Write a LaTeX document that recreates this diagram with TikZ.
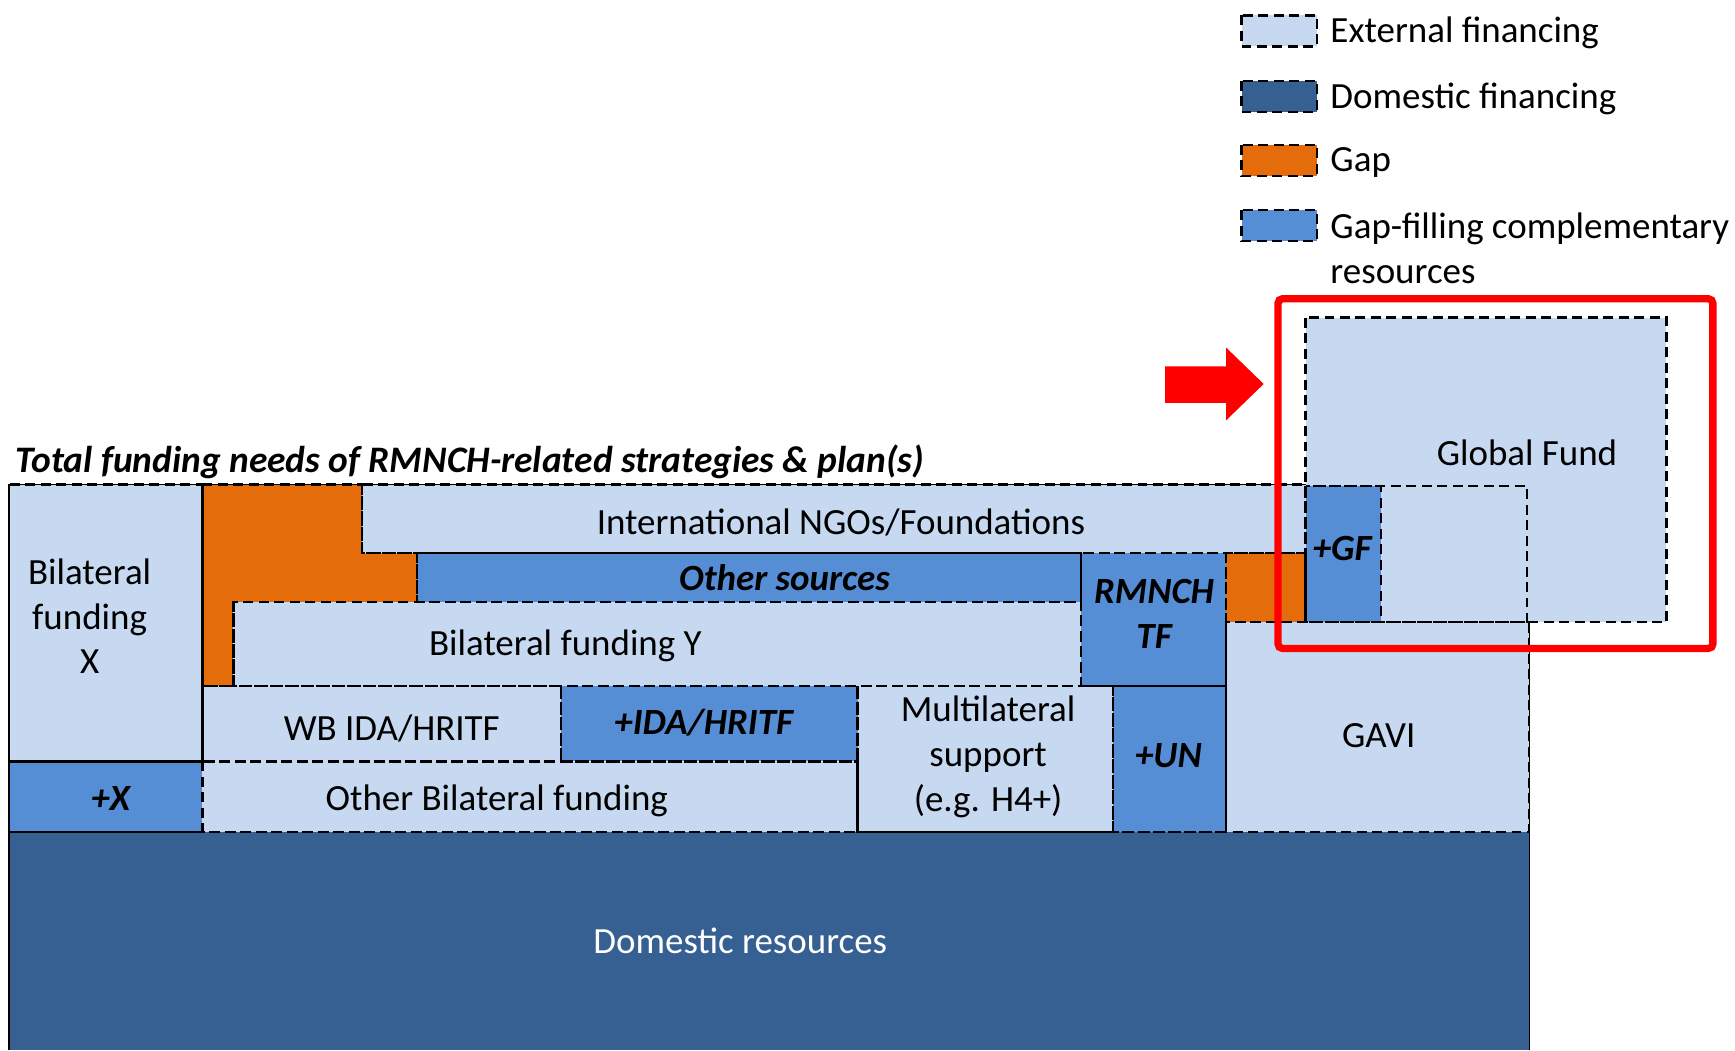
\documentclass[tikz,border=0pt]{standalone}
\usepackage{fontspec}
\setmainfont{Carlito}
\usepackage{tikz}
\usetikzlibrary{positioning}

\definecolor{extfill}{RGB}{198,217,241}
\definecolor{domfill}{RGB}{54,96,146}
\definecolor{gapfill}{RGB}{228,108,10}
\definecolor{compfill}{RGB}{85,142,213}

\tikzset{
  dashbox/.style={draw=black,line width=1.1pt,dash pattern=on 4.5pt off 2.5pt},
  extbox/.style={fill=extfill},
  dombox/.style={fill=domfill},
  gapbox/.style={fill=gapfill},
  compbox/.style={fill=compfill},
  lbl/.style={font=\fontsize{16.7}{20.2}\selectfont,align=center,inner sep=0pt},
  blbl/.style={lbl,font=\fontsize{16.7}{20.2}\selectfont\bfseries\itshape},
}

\begin{document}
\begin{tikzpicture}[x=0.5pt,y=0.5pt,yscale=-1,xscale=1]
\useasboundingbox (0,0) rectangle (1568,949);

%Shape: Domestic resources
\fill [dombox] (8,752) rectangle (1382,949);
%Shape: Bilateral X and +X
\fill [extbox] (8,438) rectangle (183,688);
\fill [compbox] (8,688) rectangle (183,752);
%Shape: Gap (L shape)
\fill [gapbox] (183,438) -- (327,438) -- (327,500) -- (377,500) -- (377,544) -- (211,544) -- (211,620) -- (183,620) -- cycle ;
%Shape: International NGOs / Foundations
\fill [extbox] (327,438) rectangle (1180,500);
%Shape: Other sources
\fill [compbox] (377,500) rectangle (977,544);
%Shape: RMNCH TF
\fill [compbox] (977,500) rectangle (1108,620);
%Shape: Gap (right)
\fill [gapbox] (1108,500) rectangle (1180,562);
%Shape: Bilateral Y
\fill [extbox] (211,544) rectangle (977,620);
%Shape: WB IDA, +IDA
\fill [extbox] (183,620) rectangle (507,688);
\fill [compbox] (507,620) rectangle (775,688);
%Shape: Other bilateral, multilateral, +UN, GAVI
\fill [extbox] (183,688) rectangle (775,752);
\fill [extbox] (775,620) rectangle (1006,752);
\fill [compbox] (1006,620) rectangle (1108,752);
\fill [extbox] (1108,562) rectangle (1382,752);
%Shape: Global Fund
\fill [extbox] (1180,287) rectangle (1506,562);
\fill [compbox] (1180,439) rectangle (1248,562);

%Outlines
\draw [dashbox] (8,438) rectangle (183,688);
\draw [dashbox] (8,688) rectangle (183,752);
\draw [dashbox] (183,438) -- (327,438) -- (327,500) -- (377,500) -- (377,544) -- (211,544) -- (211,620) -- (183,620) -- cycle ;
\draw [dashbox] (327,438) rectangle (1180,500);
\draw [dashbox] (377,500) rectangle (977,544);
\draw [dashbox] (977,500) rectangle (1108,620);
\draw [dashbox] (1108,500) rectangle (1180,562);
\draw [dashbox] (211,544) rectangle (977,620);
\draw [dashbox] (183,620) rectangle (507,688);
\draw [dashbox] (507,620) rectangle (775,688);
\draw [dashbox] (183,688) rectangle (775,752);
\draw [dashbox] (775,620) rectangle (1006,752);
\draw [dashbox] (1006,620) rectangle (1108,752);
\draw [dashbox] (1108,562) rectangle (1382,752);
\draw [dashbox] (1180,287) rectangle (1506,562);
\draw [dashbox] (1180,439) rectangle (1380,562);
\draw [dashbox] (1180,439) rectangle (1248,562);
\draw [dashbox] (8,752) -- (1382,752);
%Frame
\draw [line width=0.6pt] (1180,438) -- (8,438) -- (8,949);
\draw [line width=0.6pt] (1382,562) -- (1382,949);

%Red highlight and arrow
\draw [red,line width=3.3pt,rounded corners=2pt] (1155,270) rectangle (1548,586);
\fill [red] (1053,331) -- (1108,331) -- (1108,314) -- (1142,347) -- (1108,380) -- (1108,364) -- (1053,364) -- cycle ;

%Labels
\node [blbl,anchor=west,font=\fontsize{16.9}{20.2}\selectfont\bfseries\itshape] (title) at (14,417) {Total funding needs of RMNCH-related strategies \& plan(s)};
\node [lbl] (bilx) at (81,557) {Bilateral\\funding\\X};
\node [blbl] (plusx) at (100,722) {+X};
\node [lbl] (ingo) at (760,472) {International NGOs/Foundations};
\node [blbl] (other) at (709,522) {Other sources};
\node [blbl] (rmnch) at (1043,555) {RMNCH\\TF};
\node [lbl] (bily) at (511,584) {Bilateral funding Y};
\node [lbl] (wbida) at (354,658) {WB IDA/HRITF};
\node [blbl] (plusida) at (636,653) {+IDA/HRITF};
\node [lbl] (othbil) at (449,724) {Other Bilateral funding};
\node [lbl] (multi) at (893,684) {Multilateral\\support\\(e.g. H4+)};
\node [blbl] (plusun) at (1056,683) {+UN};
\node [lbl] (gavi) at (1246,665) {GAVI};
\node [blbl] (plusgf) at (1213,496) {+GF};
\node [lbl] (gf) at (1380,409) {Global Fund};
\node [lbl,text=white] (dom) at (669,850) {Domestic resources};

%Legend
\fill [extbox] (1122,14) rectangle (1190,42);
\fill [dombox] (1122,73) rectangle (1190,101);
\fill [gapbox] (1122,131) rectangle (1190,159);
\fill [compbox] (1122,190) rectangle (1190,218);
\foreach \y in {14,73,131,190}
  \draw [dashbox] (1122,\y) rectangle (1190,\y+28);
\node [lbl,anchor=west] (legext) at (1202,30) {External financing};
\node [lbl,anchor=west] (legdom) at (1202,89) {Domestic financing};
\node [lbl,anchor=west] (leggap) at (1202,147) {Gap};
\node [lbl,anchor=north west,align=left] (legcomp) at (1202,192) {Gap-filling complementary\\resources};

\end{tikzpicture}
\end{document}
